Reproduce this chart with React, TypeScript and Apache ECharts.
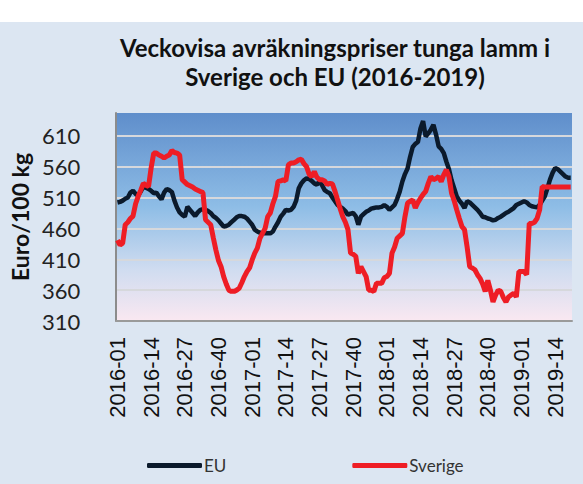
import React, { useEffect, useRef } from "react";
import * as echarts from "echarts";

const titleLines = ["Veckovisa avräkningspriser tunga lamm i", "Sverige och EU (2016-2019)"];
const yAxisName = "Euro/100 kg";
const fullYears = [2016, 2017, 2018];
const weeksPerYear = 52;
const lastYear = 2019;
const lastYearWeeks = 20;

const euValues = [
  502, 503, 505, 508, 510, 518, 521, 516, 513, 520,
  528, 526, 524, 521, 517, 518, 512, 507, 518, 524,
  522, 519, 505, 494, 486, 482, 479, 495, 490, 485,
  480, 486, 490, 491, 490, 488, 485, 480, 477, 473,
  468, 463, 464, 466, 470, 474, 478, 480, 480, 479,
  476, 471, 466, 458, 455, 453, 452, 452, 452, 452,
  455, 463, 470, 479, 484, 490, 489, 490, 495, 505,
  525, 533, 538, 541, 540, 537, 533, 531, 536, 530,
  522, 519, 517, 510, 504, 498, 495, 492, 488, 482,
  484, 485, 480, 466, 479, 483, 487, 489, 492, 493,
  494, 494, 495, 498, 495, 490, 494, 498, 508, 520,
  536, 548, 557, 576, 592, 597, 600, 622, 634, 609,
  614, 620, 628, 612, 593, 589, 582, 568, 556, 538,
  525, 512, 505, 500, 493, 504, 502, 498, 494, 490,
  485, 479, 478, 476, 475, 473, 474, 477, 479, 482,
  485, 487, 490, 493, 498, 500, 502, 504, 502, 498,
  496, 495, 494, 498, 505, 512, 525, 539, 550, 558,
  556, 552, 548, 544, 542, 542,
];

const sverigeValues = [
  441, 433, 436, 466, 470, 476, 480, 500, 512, 522,
  533, 530, 528, 558, 582, 582, 579, 577, 574, 577,
  579, 586, 583, 582, 579, 539, 535, 531, 529, 527,
  524, 522, 520, 518, 474, 470, 466, 445, 425, 408,
  398, 382, 370, 360, 358, 358, 360, 363, 372, 382,
  390, 396, 409, 420, 428, 444, 452, 460, 479, 485,
  500, 512, 536, 537, 539, 537, 563, 566, 566, 568,
  571, 572, 565, 560, 548, 544, 552, 543, 539, 539,
  537, 531, 533, 532, 520, 506, 492, 479, 470, 458,
  420, 418, 415, 387, 398, 390, 382, 360, 360, 358,
  371, 371, 371, 380, 382, 387, 420, 430, 444, 448,
  452, 479, 501, 504, 506, 493, 502, 509, 515, 520,
  533, 544, 539, 541, 544, 536, 547, 555, 544, 517,
  505, 490, 476, 463, 458, 430, 398, 396, 393, 385,
  379, 370, 358, 376, 360, 341, 352, 360, 358, 348,
  341, 349, 352, 355, 349, 390, 390, 390, 385, 468,
  468, 470, 476, 490, 528, 527, 527, 527, 527, 527,
  527, 527, 527, 527, 527, 527,
];

const pad = (n: number) => (n < 10 ? "0" + n : String(n));
const categories: string[] = [];
fullYears.forEach((y) => {
  for (let w = 1; w <= weeksPerYear; w++) categories.push(`${y}-${pad(w)}`);
});
for (let w = 1; w <= lastYearWeeks; w++) categories.push(`${lastYear}-${pad(w)}`);

export default function App() {
  const ref = useRef<HTMLDivElement>(null);
  useEffect(() => {
    if (!ref.current) return;
    const chart = echarts.init(ref.current, undefined, { renderer: "svg" });
    chart.setOption({
      animation: false,
      backgroundColor: "transparent",
      graphic: [
        {
          type: "text",
          x: 335,
          y: 47,
          style: {
            text: titleLines[0],
            textAlign: "center",
            textVerticalAlign: "middle",
            font: "bold 24px Lato",
            fill: "#111111",
          },
        },
        {
          type: "text",
          x: 335,
          y: 76,
          style: {
            text: titleLines[1],
            textAlign: "center",
            textVerticalAlign: "middle",
            font: "bold 24px Lato",
            fill: "#111111",
          },
        },
      ],
      legend: {
        bottom: 5,
        left: 142,
        icon: "roundRect",
        itemWidth: 55,
        itemHeight: 5,
        itemGap: 126,
        textStyle: { fontFamily: "Lato", fontSize: 17, color: "#333333", padding: [0, 0, 0, -3] },
        data: ["EU", "Sverige"],
      },
      grid: {
        left: 111,
        right: 11,
        top: 113,
        bottom: 163,
        show: true,
        borderWidth: 0,
        backgroundColor: new echarts.graphic.LinearGradient(0, 0, 0, 1, [
          { offset: 0, color: "#5f8ecb" },
          { offset: 0.45, color: "#8ebde6" },
          { offset: 0.75, color: "#cfdcf0" },
          { offset: 1, color: "#fae8f1" },
        ]),
      },
      xAxis: {
        type: "category",
        data: categories,
        boundaryGap: true,
        axisLine: { show: true, lineStyle: { color: "#9a9a9a", width: 2 } },
        axisTick: { show: false },
        axisLabel: {
          interval: 12,
          rotate: 90,
          margin: 16,
          fontFamily: "Liberation Sans",
          fontSize: 22,
          color: "#111111",
        },
        splitLine: { show: false },
      },
      yAxis: {
        type: "value",
        min: 310,
        max: 647,
        interval: 50,
        name: yAxisName,
        nameLocation: "middle",
        nameRotate: 90,
        nameGap: 76,
        nameTextStyle: { fontFamily: "Lato", fontWeight: "bold", fontSize: 23, color: "#111111" },
        axisLine: { show: true, lineStyle: { color: "#8c8c8c", width: 2 } },
        axisTick: { show: false },
        axisLabel: {
          margin: 36,
          fontFamily: "Lato",
          fontSize: 22,
          color: "#222222",
          formatter: (v: number) => ((v - 310) % 50 === 0 ? String(v) : ""),
        },
        splitLine: {
          show: true,
          showMinLine: false,
          showMaxLine: false,
          lineStyle: { color: "#d6d8dc", width: 2 },
        },
      },
      series: [
        {
          name: "EU",
          type: "line",
          data: euValues,
          symbol: "none",
          lineStyle: { color: "#0b1a2c", width: 4.5 },
          itemStyle: { color: "#0b1a2c" },
        },
        {
          name: "Sverige",
          type: "line",
          data: sverigeValues,
          symbol: "none",
          lineStyle: { color: "#ee1d25", width: 5 },
          itemStyle: { color: "#ee1d25" },
        },
      ],
    });
    return () => chart.dispose();
  }, []);
  return (
    <div
      style={{
        position: "absolute",
        left: 0,
        top: 0,
        width: 583,
        height: 484,
        background: "linear-gradient(to bottom, #ffffff 0px, #ffffff 22px, #dce6f2 22px)",
      }}
    >
      <div ref={ref} style={{ width: 583, height: 484 }} />
    </div>
  );
}
